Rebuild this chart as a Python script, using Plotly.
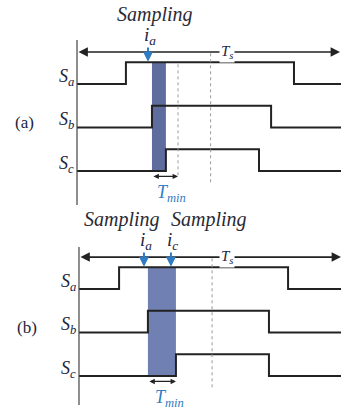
import plotly.graph_objects as go

# ---------------- data (time in % of Ts, levels: low/high per signal) ----------------
signal_names = ["S<sub>a</sub>", "S<sub>b</sub>", "S<sub>c</sub>"]
signal_base = [4, 2, 0]
Ts = 100
x_end = 100.4

rise_a = [18.6, 28.5, 33.8]
fall_a = [82.5, 73.8, 69.2]
tmin_a = 9.9
sample_a_t = [27.0]
sample_a_lbl = ["i<sub>a</sub>"]

rise_b = [15.3, 26.3, 37.0]
fall_b = [79.8, 72.5, 72.5]
tmin_b = 10.7
sample_b_t = [24.8, 35.1]
sample_b_lbl = ["i<sub>a</sub>", "i<sub>c</sub>"]

panel_labels = ["(a)", "(b)"]

SERIF = "Liberation Serif, Times New Roman, DejaVu Serif, serif"
DARK = "#222222"
BLUE = "#2f7bc4"
TXT = "#1c2540"

fig = go.Figure()

panels = [
    dict(xr="x", yr="y", rise=rise_a, fall=fall_a, tmin=tmin_a, st=sample_a_t, sl=sample_a_lbl,
         lab=panel_labels[0], fill="#5e6d9e", samp_x=[29.7], ts_x=57.0, tmin_txt_x=36.1,
         axis_top=6.02, axis_bot=-1.56, dot_extra=True),
    dict(xr="x2", yr="y2", rise=rise_b, fall=fall_b, tmin=tmin_b, st=sample_b_t, sl=sample_b_lbl,
         lab=panel_labels[1], fill="#7080b2", samp_x=[16.6, 49.8], ts_x=56.5, tmin_txt_x=34.7,
         axis_top=5.93, axis_bot=-1.33, dot_extra=False),
]

shapes = []
annotations = []

for p in panels:
    xr, yr = p["xr"], p["yr"]
    # shaded region between Sb rise and Sc rise
    shapes.append(dict(type="rect", xref=xr, yref=yr, x0=p["rise"][1], x1=p["rise"][2],
                       y0=signal_base[2], y1=signal_base[0] + 1, fillcolor=p["fill"],
                       line=dict(width=0), layer="below"))
    # vertical axis line
    shapes.append(dict(type="line", xref=xr, yref=yr, x0=0, x1=0, y0=p["axis_bot"], y1=p["axis_top"],
                       line=dict(color="#444444", width=1.2), layer="above"))
    # half-period dotted line
    shapes.append(dict(type="line", xref=xr, yref=yr, x0=Ts / 2 + 0.8, x1=Ts / 2 + 0.8, y0=-0.52, y1=5.45,
                       line=dict(color="#9a9a9a", width=1, dash="dot")))
    if p["dot_extra"]:
        xe = p["rise"][1] + p["tmin"]
        shapes.append(dict(type="line", xref=xr, yref=yr, x0=xe, x1=xe, y0=-0.2, y1=5,
                           line=dict(color="#9a9a9a", width=1, dash="dot")))

    # switching signals
    for i, name in enumerate(signal_names):
        b = signal_base[i]
        fig.add_trace(go.Scatter(
            x=[0, p["rise"][i], p["fall"][i], x_end], y=[b, b + 1, b, b],
            mode="lines", line=dict(color=DARK, width=2, shape="hv"),
            xaxis=xr, yaxis=yr, showlegend=False, hoverinfo="skip"))
        annotations.append(dict(x=-0.4, y=b + 0.3, xref=xr, yref=yr, xanchor="right", yanchor="middle",
                                text="<i>" + name + "</i>", showarrow=False,
                                font=dict(family=SERIF, size=18, color=TXT)))

    # panel label
    annotations.append(dict(x=-19.8, y=2.25, xref=xr, yref=yr, text=p["lab"], showarrow=False,
                            font=dict(family=SERIF, size=17, color=TXT)))

    # Ts double arrow
    annotations.append(dict(x=Ts, y=5.47, ax=0, ay=5.47, xref=xr, yref=yr, axref=xr, ayref=yr,
                            text="", showarrow=True, arrowside="end+start", arrowhead=2,
                            arrowsize=1.1, arrowwidth=1.7, arrowcolor=DARK))
    annotations.append(dict(x=p["ts_x"], y=5.47, xref=xr, yref=yr, text="<i>T<sub>s</sub></i>",
                            showarrow=False, bgcolor="white", borderpad=1,
                            font=dict(family=SERIF, size=15, color=TXT)))

    # Tmin double arrow + label
    ty = -0.25
    annotations.append(dict(x=p["rise"][1] + p["tmin"], y=ty, ax=p["rise"][1], ay=ty, xref=xr, yref=yr,
                            axref=xr, ayref=yr, text="", showarrow=True, arrowside="end+start",
                            arrowhead=2, arrowsize=0.9, arrowwidth=1.2, arrowcolor=DARK))
    annotations.append(dict(x=p["tmin_txt_x"], y=-1.04, xref=xr, yref=yr,
                            text="<i>T<sub>min</sub></i>", showarrow=False,
                            font=dict(family=SERIF, size=18, color=BLUE)))

    # sampling arrows and labels
    for t, lbl in zip(p["st"], p["sl"]):
        annotations.append(dict(x=t, y=5.02, ax=t, ay=5.75, xref=xr, yref=yr, axref=xr, ayref=yr,
                                text="", showarrow=True, arrowhead=2, arrowsize=1, arrowwidth=2,
                                arrowcolor=BLUE))
        annotations.append(dict(x=t + 0.6, y=6.2, xref=xr, yref=yr, text="<i>" + lbl + "</i>",
                                showarrow=False, font=dict(family=SERIF, size=19, color=TXT)))
    for sx in p["samp_x"]:
        annotations.append(dict(x=sx, y=7.2, xref=xr, yref=yr, text="<i>Sampling</i>", showarrow=False,
                                font=dict(family=SERIF, size=20, color="#2a2a35")))

ax_hidden = dict(visible=False, showgrid=False, zeroline=False, fixedrange=True)
fig.update_layout(
    width=341, height=410, margin=dict(l=0, r=0, t=0, b=0),
    paper_bgcolor="white", plot_bgcolor="white", showlegend=False,
    xaxis=dict(ax_hidden, range=[-29.28, 100.38], domain=[0, 1]),
    yaxis=dict(ax_hidden, range=[-10.99, 7.862], domain=[0, 1]),
    xaxis2=dict(ax_hidden, range=[-30.15, 100.0], overlaying="x", anchor="y2"),
    yaxis2=dict(ax_hidden, range=[-1.563, 17.287], overlaying="y", anchor="x2"),
    shapes=shapes, annotations=annotations,
)

fig.write_html("out.html", config={"displayModeBar": False},
               post_script="document.body.style.margin='0';document.body.style.overflow='hidden';")
